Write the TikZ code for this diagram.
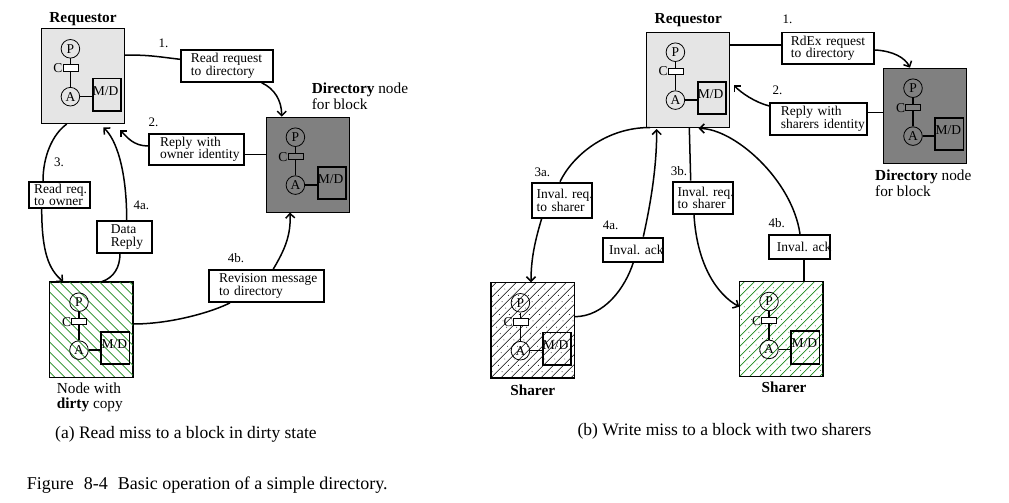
\documentclass[tikz,border=0pt]{standalone}
\usepackage{fontspec}
\setmainfont{Liberation Serif}
\newfontfamily\capfont{Liberation Serif}
\usetikzlibrary{arrows.meta,calc}
\definecolor{reqgray}{gray}{0.90}
\definecolor{dirgray}{gray}{0.50}
\definecolor{hgreen}{RGB}{30,140,30}
\definecolor{dgreen}{RGB}{20,90,20}
\frenchspacing
\tikzset{
  ubox/.style={draw, line width=0.8pt, minimum width=83pt, minimum height=95pt, inner sep=0pt, anchor=north west},
  lbl/.style={draw, line width=1.8pt, anchor=north west, align=left, inner ysep=0pt, font=\fontsize{13.5}{12.7}\selectfont},
  conn/.style={line width=1.5pt},
  arr/.style={line width=1.5pt, -{Straight Barb[length=4.5pt,width=9pt]}},
  num/.style={font=\fontsize{13}{13}\selectfont, inner sep=0pt, anchor=base west},
  ttl/.style={font=\fontsize{15.3}{15.7}\selectfont, inner sep=0pt},
  capt/.style={inner sep=0pt, anchor=base west},
  circ/.style={circle, draw, line width=0.8pt, minimum size=18.6pt, inner sep=0pt, font=\fontsize{13.5}{13.5}\selectfont},
  crect/.style={draw, line width=0.8pt, minimum width=15pt, minimum height=6.3pt, inner sep=0pt},
  mdbox/.style={draw, line width=1.8pt, minimum width=28.3pt, minimum height=32.4pt, inner sep=0pt, anchor=north west},
  small/.style={font=\fontsize{13.5}{13.5}\selectfont, inner sep=0pt},
  innerline/.style={line width=1.3pt},
  hatch/.style={line width=0.55pt},
  ghatch/.style={line width=0.75pt},
  hdots/.style={line width=0.9pt, line cap=round, dash pattern=on 0pt off 9pt},
  pics/parts/.style={code={
    \node[circ] (-P) at (29.7,20.5) {P};
    \node[crect, fill=#1] (-C) at (29.7,39.5) {};
    \node[small, anchor=base east] (-Cl) at (22,44.3) {C};
    \node[circ] (-A) at (29.7,68.4) {A};
    \node[mdbox] (-M) at (51,49.3) {};
    \node[small, anchor=base west] (-Mt) at (52,66.9) {M/D};
    \draw[innerline] (-P) -- (-C);
    \draw[innerline] (-C) -- (-A);
    \draw[innerline] (-A.east) -- ++(11.6,0);
  }},
}
\begin{document}
\begin{tikzpicture}[x=1pt,y=-1pt]
\useasboundingbox (0,0) rectangle (1009,503);
\fill[white] (0,0) rectangle (1009,503);

% ---------------- (a) ----------------
\node[ubox, fill=reqgray] (reqA) at (40.7,28.3) {};
\pic (reqAp) at (reqA.north west) {parts=white};

\node[ubox, fill=dirgray] (dirA) at (265.7,116.7) {};
\pic (dirAp) at (dirA.north west) {parts=none};

\node[ubox] (dirtyA) at (49.3,281.7) {};
\begin{scope}
  \clip (dirtyA.north west) rectangle (dirtyA.south east);
  \foreach \s in {-100,-90,...,90}
    \draw[ghatch,hgreen] ($(dirtyA.north west)+(\s,0)$) -- ++(100,100);
\end{scope}
\draw[line width=0.8pt] (dirtyA.north west) rectangle (dirtyA.south east);
\pic (dirtyAp) at (dirtyA.north west) {parts=white};

\node[lbl, inner xsep=10pt, text width=72pt, minimum height=31.7pt] (L1) at (180,49.3) {\mbox{Read request}\\\mbox{to directory}};
\node[lbl, inner xsep=11pt, text width=72.4pt, minimum height=31.6pt] (L2) at (148.3,132.7) {\mbox{Reply with}\\\mbox{owner identity}};
\node[lbl, inner xsep=5pt, text width=51pt, minimum height=25.7pt] (L3) at (28.3,181) {\mbox{Read req.}\\\mbox{to owner}};
\node[lbl, inner xsep=14pt, text width=27pt, minimum height=31.7pt] (L4a) at (96,220) {\mbox{Data}\\\mbox{Reply}};
\node[lbl, inner xsep=10.6pt, text width=94.4pt, minimum height=32pt] (L4b) at (207.7,269) {\mbox{Revision message}\\\mbox{to directory}};

\node[ttl, anchor=base] (reqAt) at (83,23) {\textbf{Requestor}};
\node[ttl, anchor=base west] (dirAt1) at (311.7,93.8) {\textbf{Directory} node};
\node[ttl, anchor=base west] (dirAt2) at (311.7,109.5) {for block};
\node[ttl, anchor=base west] (dirtyAt1) at (56.7,393.8) {Node with};
\node[ttl, anchor=base west] (dirtyAt2) at (56.7,408.5) {\textbf{dirty} copy};

\node[num] (n1A) at (158.3,47.7) {1.};
\node[num] (n2A) at (148.3,126) {2.};
\node[num] (n3A) at (54,166.7) {3.};
\node[num] (n4aA) at (133.3,209.3) {4a.};
\node[num] (n4bA) at (227.7,262.3) {4b.};

\draw[conn] ($(reqA.north east)+(0,26.7)$) .. controls +(25,0) and +(-25,-3) .. ($(L1.north west)+(0,10)$);
\draw[arr] ($(L1.south west)+(81.7,0)$) .. controls +(13,6) and +(0,-16) .. ($(dirA.north west)+(16,0)$);
\draw[conn] ($(dirA.north west)+(0,37.6)$) -- ($(L2.north east)+(0,21.6)$);
\draw[arr] ($(L2.north west)+(0,13.3)$) .. controls +(-15,0) and +(7,7) .. ($(reqA.south east)+(-4.4,6)$);
\draw[conn] ($(reqA.south west)+(26,0)$) .. controls +(-14,10) and +(0,-25) .. ($(L3.north west)+(14.7,0)$);
\draw[arr] ($(L3.south west)+(13.4,0)$) .. controls +(0,45) and +(-14,-12) .. ($(dirtyA.north west)+(14,0)$);
\draw[conn] ($(dirtyA.north west)+(52.4,0)$) .. controls +(12,-4) and +(0,14) .. ($(L4a.south west)+(24,0)$);
\draw[arr] ($(L4a.north west)+(30.7,0)$) .. controls +(0,-50) and +(13,12) .. ($(reqA.south west)+(62.6,3.4)$);
\draw[conn] ($(dirtyA.north east)+(0,42.3)$) .. controls +(40,0) and +(-15,8) .. ($(L4b.south west)+(22.3,0)$);
\draw[arr] ($(L4b.north west)+(65.6,0)$) .. controls +(12,-20) and +(1,22) .. ($(dirA.south west)+(24.3,0)$);

% ---------------- (b) ----------------
\node[ubox, fill=reqgray] (reqB) at (645.7,31.7) {};
\pic (reqBp) at (reqB.north west) {parts=white};

\node[ubox, fill=dirgray] (dirB) at (883.3,67.7) {};
\pic (dirBp) at (dirB.north west) {parts=none};

\node[ubox] (sh1) at (490.7,282.3) {};
\begin{scope}
  \clip (sh1.north west) rectangle (sh1.south east);
  \foreach \s in {-100,-90,...,90} {
    \draw[hatch,black] ($(sh1.south west)+(\s,0)$) -- ++(100,-100);
    \draw[hdots,black] ($(sh1.south west)+(\s+5,0)$) -- ++(100,-100);
  }
\end{scope}
\draw[line width=0.8pt] (sh1.north west) rectangle (sh1.south east);
\pic (sh1p) at (sh1.north west) {parts=white};

\node[ubox] (sh2) at (739.3,281) {};
\begin{scope}
  \clip (sh2.north west) rectangle (sh2.south east);
  \foreach \s in {-100,-90,...,90} {
    \draw[ghatch,hgreen] ($(sh2.south west)+(\s,0)$) -- ++(100,-100);
    \draw[hdots,dgreen] ($(sh2.south west)+(\s+5,0)$) -- ++(100,-100);
  }
\end{scope}
\draw[line width=0.8pt] (sh2.north west) rectangle (sh2.south east);
\pic (sh2p) at (sh2.north west) {parts=white};

\node[lbl, inner xsep=9pt, text width=74.3pt, minimum height=31.6pt] (R1) at (781,31.7) {\mbox{RdEx request}\\\mbox{to directory}};
\node[lbl, inner xsep=10.7pt, text width=75.3pt, minimum height=32.3pt] (R2) at (769.3,101.7) {\mbox{Reply with}\\\mbox{sharers identity}};
\node[lbl, inner xsep=4.7pt, text width=50.3pt, minimum height=35pt] (R3a) at (531,181.7) {\mbox{Inval. req.}\\\mbox{to sharer}};
\node[lbl, inner xsep=6.6pt, text width=47.4pt, minimum height=24pt] (R4a) at (601.7,236.7) {\mbox{Inval. ack}};
\node[lbl, inner xsep=5pt, text width=50pt, minimum height=32.6pt] (R3b) at (671.7,180.7) {\mbox{Inval. req.}\\\mbox{to sharer}};
\node[lbl, inner xsep=7.7pt, text width=45.3pt, minimum height=24.3pt] (R4b) at (768.3,234) {\mbox{Inval. ack}};

\node[ttl, anchor=base] (reqBt) at (688.3,23.5) {\textbf{Requestor}};
\node[ttl, anchor=base west] (dirBt1) at (875,180.8) {\textbf{Directory} node};
\node[ttl, anchor=base west] (dirBt2) at (875,196.5) {for block};
\node[ttl, anchor=base] (sh1t) at (532.7,395.5) {\textbf{Sharer}};
\node[ttl, anchor=base] (sh2t) at (784,392.8) {\textbf{Sharer}};

\node[num] (n1B) at (782.3,23.3) {1.};
\node[num] (n2B) at (772.3,94) {2.};
\node[num] (n3aB) at (534.3,176.7) {3a.};
\node[num] (n3bB) at (670.7,175.7) {3b.};
\node[num] (n4aB) at (602.7,229) {4a.};
\node[num] (n4bB) at (768.3,227.7) {4b.};

\draw[conn] ($(reqB.north east)+(0,13.3)$) -- ($(R1.north west)+(0,13.3)$);
\draw[arr] ($(R1.north east)+(0,18.3)$) .. controls +(18,1) and +(-5,-10) .. ($(dirB.north west)+(26.7,0)$);
\draw[conn] ($(dirB.north west)+(0,45)$) -- ($(R2.north east)+(0,11)$);
\draw[arr] ($(R2.north west)+(0,4.3)$) .. controls +(-15,-4) and +(8,8) .. ($(reqB.north east)+(4,53.3)$);
\draw[conn] ($(reqB.south west)+(4.3,0)$) .. controls +(-45,0) and +(12,-25) .. ($(R3a.north west)+(29,0)$);
\draw[arr] ($(R3a.south west)+(10.7,0)$) .. controls +(-6,20) and +(0,-25) .. ($(sh1.north west)+(40.3,0)$);
\draw[conn] ($(sh1.north east)+(0,34.4)$) .. controls +(30,0) and +(-8,25) .. ($(R4a.south west)+(31.6,0)$);
\draw[arr] ($(R4a.north west)+(41.6,0)$) .. controls +(10,-45) and +(0,30) .. ($(reqB.south west)+(11,1.5)$);
\draw[conn] ($(reqB.south west)+(43.6,0)$) -- ($(R3b.north west)+(19,0)$);
\draw[arr] ($(R3b.south west)+(22.3,0)$) .. controls +(3,50) and +(-22,-12) .. ($(sh2.north west)+(0,25.7)$);
\draw[conn] ($(sh2.north west)+(64.7,0)$) -- ($(R4b.south west)+(35.7,0)$);
\draw[arr] ($(R4b.north west)+(31.7,0)$) .. controls +(-8,-55) and +(35,0) .. ($(reqB.south west)+(53,1)$);

% ---------------- captions ----------------
\node[capt, font=\capfont\fontsize{17.5}{20}\selectfont] (capA) at (55,438.3) {(a) Read miss to a block in dirty state};
\node[capt, font=\capfont\fontsize{17.5}{20}\selectfont] (capB) at (577.3,435) {(b) Write miss to a block with two sharers};
\node[capt, font=\capfont\fontsize{18}{21}\selectfont] (fig) at (26.7,489.3) {Figure\hspace{10pt}8-4\hspace{10pt}Basic operation of a simple directory.};
\end{tikzpicture}
\end{document}
